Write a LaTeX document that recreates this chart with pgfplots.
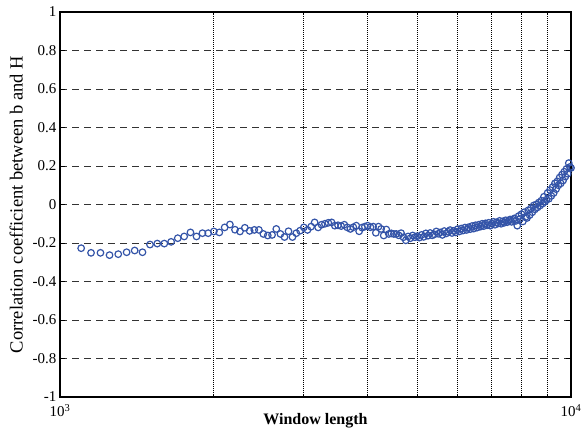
\documentclass[border=0pt]{standalone}
\usepackage{fontspec}
\setmainfont{Liberation Serif}
\usepackage{pgfplots}
\usepackage{pgfplotstable}
\pgfplotsset{compat=1.18}
\definecolor{mk}{RGB}{52,84,168}
\pgfplotstableread{
x y
1100 -0.227
1150 -0.251
1200 -0.251
1250 -0.263
1300 -0.258
1350 -0.248
1400 -0.239
1450 -0.248
1500 -0.208
1550 -0.203
1600 -0.203
1650 -0.194
1700 -0.175
1750 -0.166
1800 -0.145
1850 -0.166
1900 -0.149
1950 -0.149
2000 -0.140
2050 -0.145
2100 -0.119
2150 -0.104
2200 -0.131
2250 -0.140
2300 -0.121
2350 -0.137
2400 -0.132
2450 -0.132
2500 -0.153
2550 -0.161
2600 -0.158
2650 -0.127
2700 -0.153
2750 -0.169
2800 -0.139
2850 -0.169
2900 -0.149
2950 -0.136
3000 -0.119
3050 -0.132
3100 -0.115
3150 -0.093
3200 -0.119
3250 -0.105
3300 -0.100
3350 -0.095
3400 -0.093
3450 -0.110
3500 -0.108
3550 -0.112
3600 -0.105
3650 -0.119
3700 -0.127
3750 -0.118
3800 -0.110
3850 -0.139
3900 -0.120
3950 -0.115
4000 -0.110
4050 -0.118
4100 -0.115
4150 -0.147
4200 -0.115
4250 -0.127
4300 -0.161
4350 -0.130
4400 -0.153
4450 -0.150
4500 -0.153
4550 -0.153
4600 -0.160
4650 -0.149
4700 -0.170
4750 -0.186
4800 -0.166
4850 -0.175
4900 -0.161
4950 -0.170
5000 -0.165
5050 -0.172
5100 -0.158
5150 -0.168
5200 -0.150
5250 -0.162
5300 -0.148
5350 -0.160
5400 -0.155
5450 -0.140
5500 -0.152
5550 -0.145
5600 -0.158
5650 -0.138
5700 -0.150
5750 -0.142
5800 -0.133
5850 -0.148
5900 -0.137
5950 -0.145
6000 -0.128
6050 -0.140
6100 -0.125
6150 -0.135
6200 -0.120
6250 -0.132
6300 -0.118
6350 -0.128
6400 -0.112
6450 -0.125
6500 -0.108
6550 -0.120
6600 -0.105
6650 -0.115
6700 -0.100
6750 -0.112
6800 -0.098
6850 -0.108
6900 -0.095
6950 -0.110
7000 -0.100
7050 -0.090
7100 -0.105
7150 -0.092
7200 -0.098
7250 -0.085
7300 -0.100
7350 -0.088
7400 -0.095
7450 -0.082
7500 -0.092
7550 -0.085
7600 -0.078
7650 -0.090
7700 -0.080
7750 -0.072
7800 -0.085
7850 -0.110
7900 -0.060
7950 -0.075
8000 -0.050
8050 -0.088
8100 -0.040
8150 -0.065
8200 -0.070
8250 -0.030
8300 -0.055
8350 -0.020
8400 -0.040
8450 -0.005
8500 -0.025
8550 0.000
8600 -0.015
8650 0.010
8700 -0.005
8750 0.020
8800 0.005
8850 0.040
8900 0.015
8950 0.025
9000 0.060
9050 0.030
9100 0.075
9150 0.045
9200 0.090
9250 0.060
9300 0.110
9350 0.080
9400 0.120
9450 0.100
9500 0.140
9550 0.110
9600 0.155
9650 0.125
9700 0.170
9750 0.145
9800 0.185
9850 0.160
9900 0.215
9950 0.195
10000 0.190
}\datatable
\begin{document}
\begin{tikzpicture}
\begin{axis}[
  scale only axis, width=511pt, height=385pt,
  xmode=log, xmin=1000, xmax=10000, ymin=-1, ymax=1,
  xtick={1000,10000},
  xticklabels={10\textsuperscript{3},10\textsuperscript{4}},
  minor xtick={2000,3000,4000,5000,6000,7000,8000,9000},
  ytick={-1,-0.8,-0.6,-0.4,-0.2,0,0.2,0.4,0.6,0.8,1},
  yticklabels={-1,-0.8,-0.6,-0.4,-0.2,0,0.2,0.4,0.6,0.8,1},
  ymajorgrids, xminorgrids,
  major grid style={black!80, line width=0.8pt, dash pattern=on 7pt off 5pt},
  minor grid style={black, line width=0.8pt, dash pattern=on 1pt off 1pt},
  tick align=inside, major tick length=5pt, minor tick length=3pt,
  tick style={black, line width=0.8pt},
  axis line style={line width=1.4pt},
  ticklabel style={font=\fontsize{15}{17}\selectfont},
  xticklabel style={yshift=-4pt},
  xlabel={\textbf{Window length}},
  ylabel={Correlation coefficient between b and H},
  xlabel style={font=\fontsize{16}{18}\selectfont, yshift=10pt},
  ylabel style={font=\fontsize{18.5}{20}\selectfont, yshift=3pt},
]
\addplot[only marks, mark=o, mark size=3.3pt, mark options={mk, line width=1.2pt}] table[x=x,y=y] {\datatable};
\end{axis}
\pgfresetboundingbox
\useasboundingbox ([shift={(-60pt,-34pt)}]current axis.south west) rectangle ([shift={(10pt,12pt)}]current axis.north east);
\end{tikzpicture}
\end{document}
